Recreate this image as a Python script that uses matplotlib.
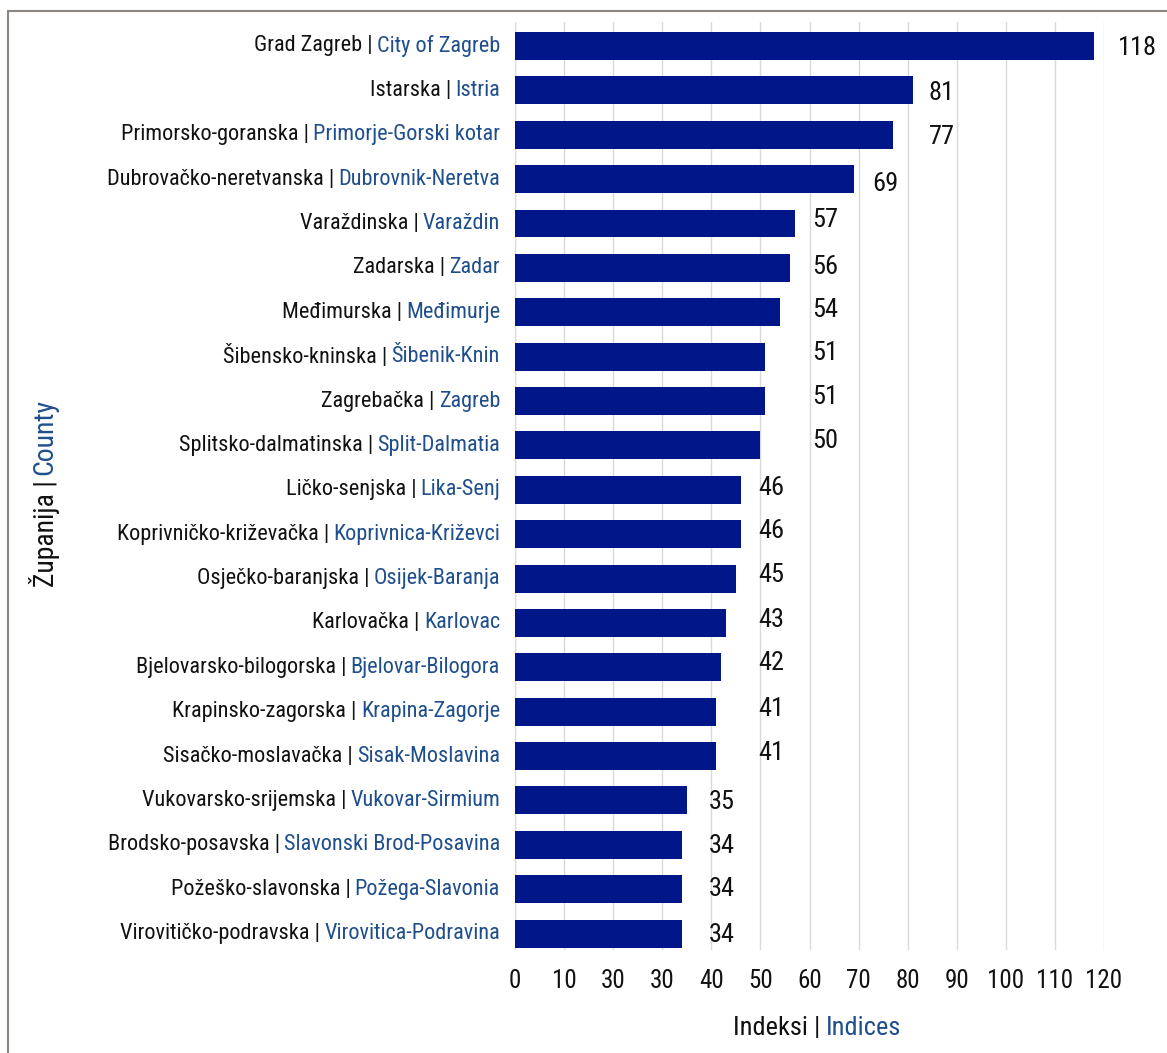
import matplotlib
matplotlib.use("Agg")
import matplotlib.pyplot as plt
import matplotlib.transforms as mtransforms
from matplotlib.patches import Rectangle

# ---------------- data ----------------
hr_names = [
    "Grad Zagreb", "Istarska", "Primorsko-goranska", "Dubrovačko-neretvanska",
    "Varaždinska", "Zadarska", "Međimurska", "Šibensko-kninska", "Zagrebačka",
    "Splitsko-dalmatinska", "Ličko-senjska", "Koprivničko-križevačka",
    "Osječko-baranjska", "Karlovačka", "Bjelovarsko-bilogorska",
    "Krapinsko-zagorska", "Sisačko-moslavačka", "Vukovarsko-srijemska",
    "Brodsko-posavska", "Požeško-slavonska", "Virovitičko-podravska",
]
en_names = [
    "City of Zagreb", "Istria", "Primorje-Gorski kotar", "Dubrovnik-Neretva",
    "Varaždin", "Zadar", "Međimurje", "Šibenik-Knin", "Zagreb",
    "Split-Dalmatia", "Lika-Senj", "Koprivnica-Križevci", "Osijek-Baranja",
    "Karlovac", "Bjelovar-Bilogora", "Krapina-Zagorje", "Sisak-Moslavina",
    "Vukovar-Sirmium", "Slavonski Brod-Posavina", "Požega-Slavonia",
    "Virovitica-Podravina",
]
values = [118, 81, 77, 69, 57, 56, 54, 51, 51, 50, 46, 46, 45, 43, 42, 41, 41,
          35, 34, 34, 34]
xtick_values = [0, 10, 20, 30, 40, 50, 60, 70, 80, 90, 100, 110, 120]
xtick_labels = ["0", "10", "30", "30", "40", "50", "60", "70", "80", "90",
                "100", "110", "120"]
xlabel_hr, xlabel_en = "Indeksi", "Indices"
ylabel_hr, ylabel_en = "Županija", "County"

# ---------------- style ----------------
FONT = ["Roboto Condensed", "DejaVu Sans"]
plt.rcParams["font.family"] = FONT
BAR = "#001689"
BLUE = "#1f4e8c"
BLACK = "#111111"
GRID = "#d9d9d9"

# value-label placement (as in the source graphic, labels are not flush)
label_x = [122.8, 84.3, 84.3, 72.7, 60.5, 60.5, 60.5, 60.5, 60.5, 60.5,
           49.5, 49.5, 49.5, 49.5, 49.5, 49.5, 49.5, 39.5, 39.5, 39.5, 39.5]
label_dy = [0.05, 0.05, 0.05, 0.1, -0.08, -0.03, -0.06, -0.08, -0.08, -0.1,
            -0.04, -0.06, -0.08, -0.06, -0.1, -0.06, -0.08, 0.03, 0.03, 0.0, 0.03]

W, H = 1167, 1053
fig = plt.figure(figsize=(W / 100, H / 100), dpi=100)
ax = fig.add_axes([515 / W, 1 - 950 / H, (1104 - 515) / W, (950 - 22) / H])

y = list(range(len(values)))
ax.barh(y, values, height=0.63, color=BAR, zorder=3)
ax.set_ylim(20.37, -0.54)
ax.set_xlim(0, 120)
ax.set_xticks(xtick_values)
ax.set_xticklabels(xtick_labels, fontsize=18, color=BLACK)
ax.tick_params(axis="x", length=0, pad=14)
ax.set_yticks([])
for s in ax.spines.values():
    s.set_visible(False)
ax.grid(axis="x", color=GRID, linewidth=1, zorder=0)
ax.set_axisbelow(True)

for i, v in enumerate(values):
    ax.text(label_x[i], i + label_dy[i], str(v), ha="left", va="center",
            fontsize=19, color=BLACK, clip_on=False)

renderer = fig.canvas.get_renderer()
ytrans = ax.get_yaxis_transform()

# two-colour category labels
gap = 15
LFS = 16
for i, (hr, en) in enumerate(zip(hr_names, en_names)):
    t_en = ax.text(0, i, en, ha="right", va="center", fontsize=LFS, color=BLUE,
                   transform=mtransforms.offset_copy(ytrans, fig=fig, x=-gap,
                                                      y=0, units="dots"))
    w = t_en.get_window_extent(renderer).width
    ax.text(0, i, hr + " |", ha="right", va="center", fontsize=LFS, color=BLACK,
            transform=mtransforms.offset_copy(ytrans, fig=fig, x=-gap - w - 4,
                                               y=0, units="dots"))

# x label (two colours), centred under axes
xl_y = 1 - 1028 / H
t1 = fig.text(0, xl_y, xlabel_hr + " |", fontsize=19, color=BLACK, va="center")
t2 = fig.text(0, xl_y, xlabel_en, fontsize=19, color=BLUE, va="center")
w1 = t1.get_window_extent(renderer).width
w2 = t2.get_window_extent(renderer).width
sp = 5
total = w1 + sp + w2
cx = 817
t1.set_x((cx - total / 2) / W)
t2.set_x((cx - total / 2 + w1 + sp) / W)

# y label (two colours), rotated
yl_x = 45 / W
s1 = fig.text(yl_x, 0, ylabel_hr + " |", fontsize=20, color=BLACK,
              rotation=90, ha="center", va="bottom")
s2 = fig.text(yl_x, 0, ylabel_en, fontsize=20, color=BLUE, rotation=90,
              ha="center", va="bottom")
h1 = s1.get_window_extent(renderer).height
h2 = s2.get_window_extent(renderer).height
totalh = h1 + sp + h2
cy = H - 493  # pixel from bottom
s1.set_y((cy - totalh / 2) / H)
s2.set_y((cy - totalh / 2 + h1 + sp) / H)

# outer frame
fig.patches.append(Rectangle((8 / W, -0.05), 1.2, 1 - 11 / H + 0.05,
                             transform=fig.transFigure, fill=False,
                             edgecolor="#8c8580", linewidth=1.5, zorder=10))

fig.savefig("out.png", dpi=100)
